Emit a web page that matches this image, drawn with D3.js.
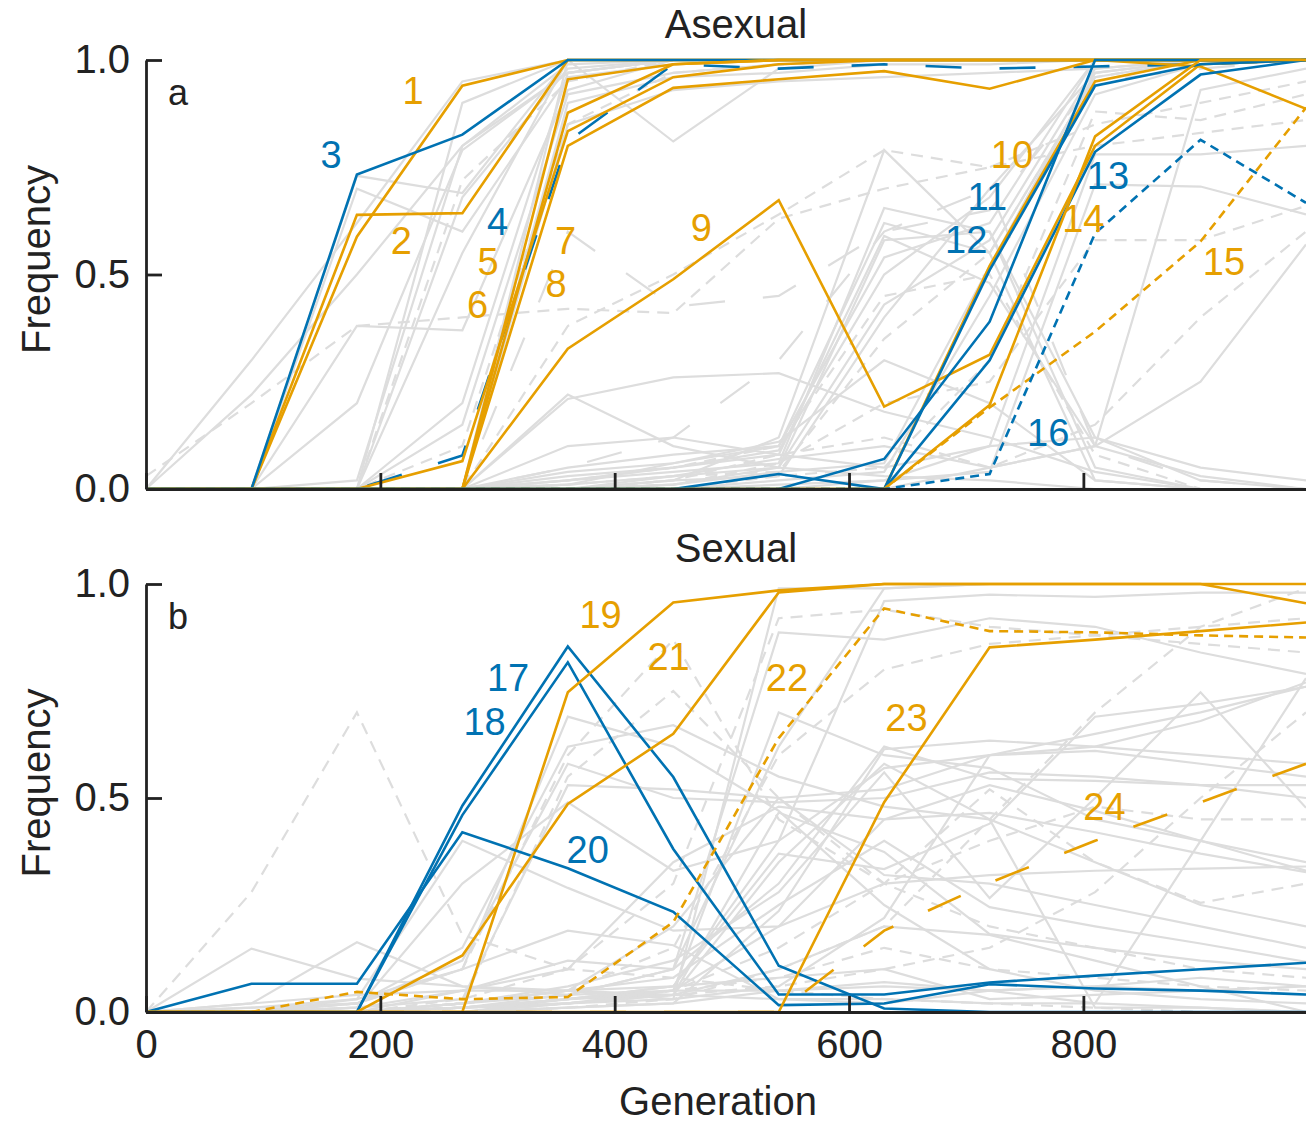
<!DOCTYPE html>
<html>
<head>
<meta charset="utf-8">
<script src="https://cdn.jsdelivr.net/npm/d3@7/dist/d3.min.js"></script>
<style>
  body { margin: 0; background: #fff; }
  svg { display: block; font-family: "Liberation Sans", Arial, Helvetica, sans-serif; }
</style>
</head>
<body>
<div id="chart"></div>
<script>
// Sampling times shared by every trajectory
const generations = [0, 90, 180, 270, 360, 450, 540, 630, 720, 810, 900, 990];
const xTicks = [0, 200, 400, 600, 800];
const yTicks = [0, 0.5, 1];
const panelTitles = ["Asexual", "Sexual"];
const panelLetters = ["a", "b"];

// ---- Asexual: highlighted lineages
const asexLabels = ["1","2","3","4","5","6","7","8","9","10","11","12","13","14","15","16"];
const asexFreq = [
  [0, 0, 0.588, 0.94, 1, 1, 1, 1, 1, 1, 1, 1],
  [0, 0, 0.639, 0.643, 1, 1, 1, 1, 1, 1, 1, 1],
  [0, 0, 0.733, 0.826, 1, 1, 1, 1, 1, 1, 1, 1],
  [0, 0, 0, 0.078, 0.81, 0.99, 0.98, 0.99, 0.98, 0.985, 0.99, 1],
  [0, 0, 0, 0, 0.877, 0.99, 1, 1, 1, 1, 1, 1],
  [0, 0, 0, 0.065, 0.834, 0.96, 0.99, 1, 1, 1, 1, 1],
  [0, 0, 0, 0, 0.955, 0.99, 1, 1, 1, 1, 0.985, 0.886],
  [0, 0, 0, 0, 0.80, 0.935, 0.955, 0.974, 0.933, 1, 1, 1],
  [0, 0, 0, 0, 0.327, 0.489, 0.673, 0.192, 0.313, 0.80, 0.99, 1],
  [0, 0, 0, 0, 0, 0, 0, 0, 0.52, 0.95, 1, 1],
  [0, 0, 0, 0, 0, 0, 0, 0.07, 0.39, 1, 1, 1],
  [0, 0, 0, 0, 0, 0, 0, 0, 0.51, 0.94, 0.99, 1],
  [0, 0, 0, 0, 0, 0, 0.035, 0, 0.30, 0.786, 0.966, 1],
  [0, 0, 0, 0, 0, 0, 0, 0, 0.196, 0.822, 1, 1],
  [0, 0, 0, 0, 0, 0, 0, 0, 0.19, 0.367, 0.577, 0.889],
  [0, 0, 0, 0, 0, 0, 0, 0, 0.035, 0.596, 0.814, 0.667]
];
// label anchor points, in (generation, frequency)
const asexLabelGen = [228, 218, 158, 300, 292, 283, 358, 350, 474, 739, 718, 700, 821, 800, 920, 770];
const asexLabelFreq = [0.93, 0.58, 0.781, 0.625, 0.531, 0.431, 0.58, 0.48, 0.611, 0.781, 0.683, 0.583, 0.732, 0.632, 0.531, 0.133];

// ---- Asexual: background lineages
const asexGrey = [
  [0, 0.30, 0.62, 0.95, 1, 1, 1, 1, 1, 1, 1, 1],
  [0, 0.22, 0.50, 0.80, 0.97, 1, 1, 1, 1, 1, 1, 1],
  [0, 0, 0.73, 0.69, 1, 1, 1, 1, 1, 1, 1, 1],
  [0, 0, 0.70, 0.60, 0.96, 0.99, 1, 1, 1, 1, 1, 1],
  [0, 0, 0.38, 0.37, 0.93, 1, 1, 1, 1, 1, 1, 1],
  [0, 0, 0.20, 0.79, 0.97, 1, 1, 1, 1, 1, 1, 1],
  [0, 0, 0, 0.20, 0.97, 1, 1, 1, 1, 1, 1, 1],
  [0, 0, 0, 0.55, 1, 1, 1, 1, 1, 1, 1, 1],
  [0, 0, 0, 0.68, 0.98, 1, 1, 1, 1, 1, 1, 1],
  [0, 0, 0.02, 0.80, 0.99, 1, 1, 1, 1, 1, 1, 1],
  [0, 0, 0, 0.90, 1, 1, 1, 1, 1, 1, 1, 1],
  [0, 0, 0, 0.15, 0.92, 0.97, 0.99, 1, 1, 1, 1, 1],
  [0, 0, 0, 0, 1, 0.81, 0.98, 1, 1, 1, 1, 1],
  [0, 0, 0, 0, 0.90, 0.96, 0.97, 0.99, 0.99, 1, 1, 1],
  [0, 0, 0, 0, 0.85, 0.93, 0.95, 0.96, 0.97, 0.98, 1, 1],
  [0, 0, 0, 0, 0.21, 0.26, 0.27, 0.18, 0.12, 0.04, 0, 0],
  [0, 0, 0, 0, 0.22, 0.10, 0.05, 0.03, 0.02, 0, 0, 0],
  [0, 0, 0, 0, 0.05, 0.08, 0.10, 0.62, 0.55, 0.02, 0, 0],
  [0, 0, 0, 0, 0.02, 0.04, 0.06, 0.655, 0.60, 0.05, 0, 0],
  [0, 0, 0, 0, 0.03, 0.05, 0.08, 0.59, 0.48, 0.10, 0.03, 0],
  [0, 0, 0, 0, 0.04, 0.06, 0.10, 0.54, 0.62, 1, 1, 1],
  [0, 0, 0, 0, 0.01, 0.03, 0.05, 0.43, 0.58, 0.98, 1, 1],
  [0, 0, 0, 0, 0, 0.02, 0.12, 0.79, 0.55, 0.96, 1, 1],
  [0, 0, 0, 0, 0.02, 0.05, 0.09, 0.50, 0.68, 1, 1, 1],
  [0, 0, 0, 0, 0, 0.01, 0.04, 0.06, 0.52, 0.97, 1, 1],
  [0, 0, 0, 0, 0, 0, 0.02, 0.04, 0.45, 0.92, 0.99, 1],
  [0, 0, 0, 0, 0.01, 0.06, 0.11, 0.30, 0.20, 0.02, 0, 0],
  [0, 0, 0, 0, 0, 0.03, 0.07, 0.10, 0.05, 0.10, 0.25, 0.57],
  [0, 0, 0, 0, 0, 0, 0.01, 0.02, 0.04, 0.71, 0.705, 0.64],
  [0, 0, 0, 0, 0, 0, 0, 0.02, 0.10, 0.78, 0.78, 0.80],
  [0, 0, 0, 0, 0, 0, 0, 0, 0.05, 0.10, 0.93, 0.98],
  [0, 0, 0, 0, 0.10, 0.12, 0.08, 0.05, 0.10, 0.12, 0.02, 0],
  [0, 0, 0, 0, 0, 0.02, 0.03, 0.40, 0.70, 0.97, 1, 1],
  [0, 0, 0, 0, 0, 0.01, 0.05, 0.58, 0.60, 0.12, 0.05, 0.02]
];
const asexGreyDashed = [
  [0.03, 0.20, 0.38, 0.40, 0.42, 0.41, 0.63, 0.70, 0.75, 0.80, 0.83, 0.86],
  [0, 0, 0, 0.72, 0.95, 1, 1, 1, 1, 1, 1, 1],
  [0, 0, 0, 0.10, 0.85, 0.97, 0.99, 1, 1, 1, 1, 1],
  [0, 0, 0, 0, 0.38, 0.50, 0.64, 0.79, 0.75, 0.85, 0.90, 0.95],
  [0, 0, 0, 0, 0.02, 0.05, 0.10, 0.45, 0.50, 0.08, 0, 0],
  [0, 0, 0, 0, 0, 0.01, 0.06, 0.20, 0.25, 0.58, 0.58, 0.66],
  [0, 0, 0, 0, 0, 0, 0.03, 0.05, 0.30, 0.88, 0.86, 0.92],
  [0, 0, 0, 0, 0.01, 0.03, 0.04, 0.35, 0.55, 0.96, 1, 1],
  [0, 0, 0, 0, 0, 0.02, 0.08, 0.12, 0.05, 0.15, 0.40, 0.60]
];
const asexGreyLong = [
  [0, 0, 0, 0, 0.60, 0.425, 0.45, 0.60, 0.65, 0.95, 0.98, 1],
  [0, 0, 0, 0, 0.05, 0.12, 0.30, 0.60, 0.70, 0.10, 0.02, 0]
];

// ---- Sexual: highlighted lineages
const sexLabels = ["17","18","19","20","21","22","23","24"];
const sexFreq = [
  [0, 0, 0, 0.482, 0.854, 0.549, 0.108, 0.008, 0, 0, 0, 0],
  [0, 0, 0, 0.46, 0.817, 0.381, 0.041, 0.041, 0.069, 0.085, 0.10, 0.115],
  [0, 0, 0, 0, 0.747, 0.957, 0.985, 1, 1, 1, 1, 0.955],
  [0, 0.066, 0.066, 0.42, 0.336, 0.234, 0.016, 0.02, 0.065, 0.055, 0.05, 0.041],
  [0, 0, 0, 0.132, 0.486, 0.65, 0.98, 1, 1, 1, 1, 1],
  [0, 0, 0.047, 0.03, 0.035, 0.21, 0.64, 0.943, 0.89, 0.887, 0.88, 0.875],
  [0, 0, 0, 0, 0, 0, 0, 0.49, 0.852, 0.87, 0.89, 0.91],
  [0, 0, 0, 0, 0, 0, 0, 0.19, 0.302, 0.40, 0.49, 0.58]
];
const sexLabelGen = [309, 289, 388, 377, 446, 547, 649, 818];
const sexLabelFreq = [0.783, 0.68, 0.93, 0.381, 0.832, 0.783, 0.689, 0.481];

// ---- Sexual: background lineages
const sexGrey = [
  [0, 0.148, 0.078, 0.06, 0.05, 0.04, 0.03, 0.03, 0.02, 0.02, 0.01, 0],
  [0, 0.02, 0.163, 0.06, 0.04, 0.05, 0.05, 0.06, 0.05, 0.06, 0.08, 0.06],
  [0, 0.01, 0.03, 0.10, 0.69, 0.62, 0.47, 0.25, 0.10, 0.05, 0.03, 0.02],
  [0, 0.01, 0.02, 0.15, 0.62, 0.67, 0.55, 0.48, 0.45, 0.35, 0.25, 0.20],
  [0, 0, 0.02, 0.12, 0.58, 0.50, 0.49, 0.50, 0.56, 0.55, 0.53, 0.50],
  [0, 0, 0.01, 0.30, 0.49, 0.33, 0.40, 0.57, 0.60, 0.62, 0.68, 0.77],
  [0, 0, 0.03, 0.40, 0.29, 0.19, 0.20, 0.45, 0.53, 0.47, 0.40, 0.33],
  [0, 0, 0.02, 0.10, 0.19, 0.156, 0.03, 0.02, 0.05, 0.06, 0.05, 0.04],
  [0, 0, 0, 0.05, 0.12, 0.10, 0.62, 0.99, 1, 1, 1, 1],
  [0, 0, 0, 0.02, 0.05, 0.03, 0.99, 0.99, 1, 1, 1, 1],
  [0, 0, 0, 0.02, 0.04, 0.10, 0.887, 0.87, 0.92, 0.90, 0.84, 0.79],
  [0, 0, 0, 0, 0.03, 0.06, 0.40, 0.96, 0.975, 0.97, 0.98, 0.98],
  [0, 0, 0, 0.02, 0.05, 0.20, 0.50, 0.52, 0.60, 0.65, 0.70, 0.76],
  [0, 0, 0, 0.01, 0.04, 0.10, 0.30, 0.62, 0.545, 0.54, 0.53, 0.53],
  [0, 0, 0, 0.02, 0.06, 0.12, 0.28, 0.56, 0.266, 0.50, 0.747, 0.477],
  [0, 0, 0.01, 0.05, 0.10, 0.35, 0.48, 0.45, 0.465, 0.42, 0.37, 0.327],
  [0, 0, 0, 0.01, 0.03, 0.05, 0.20, 0.30, 0.32, 0.33, 0.335, 0.34],
  [0, 0, 0, 0.02, 0.05, 0.08, 0.25, 0.40, 0.245, 0.20, 0.16, 0.117],
  [0, 0, 0, 0.01, 0.02, 0.04, 0.10, 0.20, 0.18, 0.12, 0.06, 0],
  [0, 0, 0, 0.01, 0.03, 0.04, 0.35, 0.58, 0.45, 0.01, 0.01, 0],
  [0, 0, 0, 0, 0.01, 0.02, 0.05, 0.07, 0.05, 0.02, 0.40, 0.78],
  [0, 0, 0, 0.01, 0.02, 0.03, 0.06, 0.22, 0.60, 0.61, 0.58, 0.55],
  [0, 0, 0.01, 0.03, 0.53, 0.52, 0.50, 0.32, 0.30, 0.25, 0.20, 0.15],
  [0, 0.02, 0.04, 0.05, 0.05, 0.06, 0.08, 0.10, 0.03, 0.04, 0.05, 0.06],
  [0, 0, 0, 0, 0.02, 0.05, 0.70, 0.60, 0.57, 0.45, 0.40, 0.35],
  [0, 0, 0, 0.01, 0.03, 0.06, 0.37, 0.334, 0.44, 0.69, 0.72, 0.76],
  [0, 0, 0, 0, 0.01, 0.02, 0.236, 0.614, 0.634, 0.62, 0.60, 0.58],
  [0, 0, 0, 0, 0.02, 0.04, 0.466, 0.374, 0.182, 0.15, 0.12, 0.10]
];
const sexGreyDashed = [
  [0, 0.28, 0.70, 0.18, 0.10, 0.08, 0.05, 0.03, 0.02, 0.01, 0, 0],
  [0, 0, 0.02, 0.10, 0.60, 0.87, 0.45, 0.30, 0.20, 0.15, 0.10, 0.08],
  [0, 0, 0, 0.03, 0.10, 0.30, 0.92, 0.94, 0.90, 0.88, 0.86, 0.84],
  [0, 0, 0, 0.02, 0.05, 0.15, 0.60, 0.80, 0.86, 0.88, 0.90, 0.92],
  [0, 0, 0, 0.01, 0.03, 0.05, 0.15, 0.30, 0.52, 0.35, 0.255, 0.30],
  [0, 0, 0, 0, 0.01, 0.03, 0.10, 0.20, 0.45, 0.70, 0.90, 0.99],
  [0, 0, 0, 0.01, 0.02, 0.05, 0.08, 0.15, 0.10, 0.08, 0.06, 0.05],
  [0, 0, 0, 0, 0.02, 0.04, 0.06, 0.10, 0.15, 0.28, 0.50, 0.70],
  [0, 0, 0, 0.02, 0.55, 0.75, 0.50, 0.30, 0.40, 0.48, 0.45, 0.45]
];
const sexGreyLong = [];

// styles per highlighted lineage: colour, dash
const ORANGE = "#E69F00", BLUE = "#0072B2", GREY = "#dddddd";
const SHORT = "9,6", LONG = "36,38", GREYSHORT = "12,8";
const lineStyle = {
  "1": [ORANGE, null], "2": [ORANGE, null], "3": [BLUE, null], "4": [BLUE, LONG],
  "5": [ORANGE, null], "6": [ORANGE, null], "7": [ORANGE, null], "8": [ORANGE, null],
  "9": [ORANGE, null], "10": [ORANGE, null], "11": [BLUE, null], "12": [BLUE, null],
  "13": [BLUE, null], "14": [ORANGE, null], "15": [ORANGE, SHORT], "16": [BLUE, SHORT],
  "17": [BLUE, null], "18": [BLUE, null], "19": [ORANGE, null], "20": [BLUE, null],
  "21": [ORANGE, null], "22": [ORANGE, SHORT], "23": [ORANGE, null], "24": [ORANGE, LONG]
};

const width = 1306, height = 1124;
const left = 146, right = 1306;
const fontAxis = 40, fontLabel = 38;

const x = d3.scaleLinear().domain([0, 990]).range([left, right]);

const svg = d3.select("#chart")
  .append("svg")
  .attr("width", width)
  .attr("height", height);

const panels = [
  { top: 60, bottom: 489, showX: false,
    labels: asexLabels, freq: asexFreq, labelGen: asexLabelGen, labelFreq: asexLabelFreq,
    grey: asexGrey, greyDashed: asexGreyDashed, greyLong: asexGreyLong },
  { top: 584, bottom: 1012, showX: true,
    labels: sexLabels, freq: sexFreq, labelGen: sexLabelGen, labelFreq: sexLabelFreq,
    grey: sexGrey, greyDashed: sexGreyDashed, greyLong: sexGreyLong }
];

panels.forEach((p, k) => {
  const y = d3.scaleLinear().domain([0, 1]).range([p.bottom, p.top]);
  const line = d3.line()
    .x((d, i) => x(generations[i]))
    .y(d => y(d));

  const g = svg.append("g");

  // background trajectories
  const greyGroup = g.append("g").attr("fill", "none").attr("stroke", GREY).attr("stroke-width", 2.2);
  greyGroup.selectAll("path.solid").data(p.grey).join("path")
    .attr("class", "solid").attr("d", line);
  greyGroup.selectAll("path.dashed").data(p.greyDashed).join("path")
    .attr("class", "dashed").attr("d", line).attr("stroke-dasharray", GREYSHORT);
  greyGroup.selectAll("path.long").data(p.greyLong).join("path")
    .attr("class", "long").attr("d", line).attr("stroke-dasharray", LONG);

  // highlighted trajectories
  const rows = p.labels.map((l, i) => ({ label: l, values: p.freq[i], gen: p.labelGen[i], f: p.labelFreq[i] }));
  g.append("g").attr("fill", "none")
    .selectAll("path").data(rows).join("path")
    .attr("d", d => line(d.values))
    .attr("stroke", d => lineStyle[d.label][0])
    .attr("stroke-width", 2.6)
    .attr("stroke-dasharray", d => lineStyle[d.label][1]);

  // lineage numbers
  g.append("g").selectAll("text").data(rows).join("text")
    .attr("x", d => x(d.gen))
    .attr("y", d => y(d.f))
    .attr("dy", "0.36em")
    .attr("text-anchor", "middle")
    .attr("fill", d => lineStyle[d.label][0])
    .style("font-size", fontLabel + "px")
    .text(d => d.label);

  // axes with inward ticks
  const yAxis = d3.axisLeft(y)
    .tickValues(yTicks)
    .tickFormat(d3.format(".1f"))
    .tickSizeInner(-16)
    .tickSizeOuter(0)
    .tickPadding(16);
  const xAxis = d3.axisBottom(x)
    .tickValues(xTicks)
    .tickSizeInner(-16)
    .tickSizeOuter(0)
    .tickPadding(18);
  if (!p.showX) xAxis.tickFormat("");

  [g.append("g").attr("transform", `translate(0,${p.bottom})`).call(xAxis),
   g.append("g").attr("transform", `translate(${left},0)`).call(yAxis)]
    .forEach(ax => {
      ax.attr("color", "#222").attr("font-size", fontAxis).attr("font-family", null);
      ax.selectAll("path, line").attr("stroke-width", 2.8);
      ax.selectAll("text").attr("fill", "#222");
    });

  // panel title and letter
  g.append("text")
    .attr("x", 736).attr("y", p.top - 22)
    .attr("text-anchor", "middle")
    .attr("fill", "#222")
    .style("font-size", fontAxis + "px")
    .text(panelTitles[k]);

  g.append("text")
    .attr("x", 168).attr("y", p.top + 45)
    .attr("fill", "#222")
    .style("font-size", "36px")
    .text(panelLetters[k]);

  g.append("text")
    .attr("transform", `translate(50,${(p.top + p.bottom) / 2 - 15}) rotate(-90)`)
    .attr("text-anchor", "middle")
    .attr("fill", "#222")
    .style("font-size", fontAxis + "px")
    .text("Frequency");
});

svg.append("text")
  .attr("x", 718).attr("y", 1115)
  .attr("text-anchor", "middle")
  .attr("fill", "#222")
  .style("font-size", fontAxis + "px")
  .text("Generation");
</script>
</body>
</html>
